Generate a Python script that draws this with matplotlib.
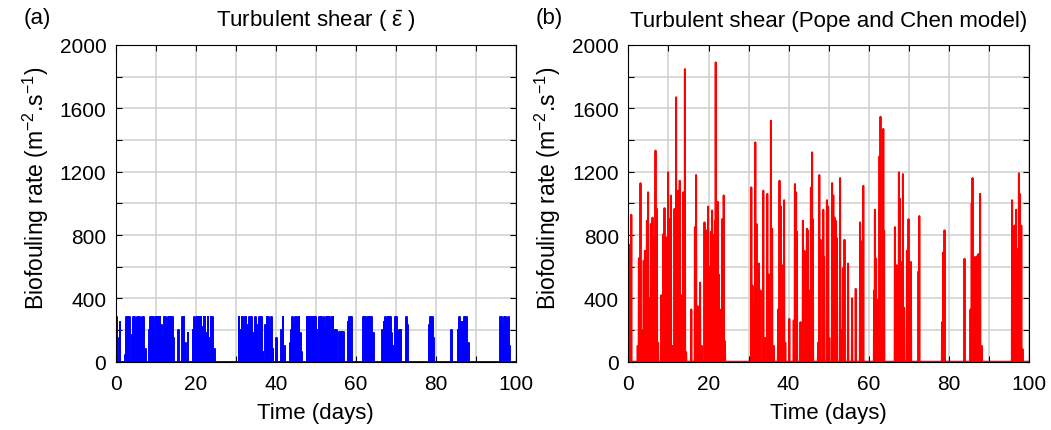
import matplotlib
matplotlib.use("Agg")
import matplotlib.pyplot as plt

plt.rcParams['font.family'] = ['Liberation Sans', 'DejaVu Sans']
plt.rcParams['mathtext.fontset'] = 'custom'
plt.rcParams['mathtext.rm'] = 'Liberation Sans'
plt.rcParams['mathtext.it'] = 'Liberation Sans'
plt.rcParams['font.size'] = 16

# (a) turbulent shear, mean epsilon: pulse days and heights
blue_days = [0.1, 0.3, 1.0, 2.3, 2.6, 3.0, 3.4,
             4.0, 4.3, 4.6, 5.0, 5.4, 5.8, 6.2, 6.6, 6.9, 7.3,
             8.3, 8.7, 9.0, 9.3, 9.7, 10.0, 10.3, 10.7, 11.0, 11.3, 11.7,
             12.1, 12.4, 12.8, 13.2, 13.5, 13.8, 14.2, 14.4,
             15.6, 16.7, 17.0, 17.4, 18.0,
             19.3, 19.6, 19.9, 20.3, 20.6, 21.0, 21.3, 21.7, 22.0, 22.3, 22.7, 23.0, 23.4, 23.75, 24.1, 24.6,
             30.8, 31.2, 31.5, 31.8, 32.2, 32.5, 32.8, 33.2, 33.5, 34.0, 34.5, 34.9, 35.3, 35.7, 36.0, 36.4, 36.8,
             37.5, 37.8, 38.2, 38.6, 39.0, 39.3, 40.2,
             41.5, 41.8, 42.2,
             43.6, 43.9, 44.2, 44.5, 44.9, 45.2, 45.5, 45.8, 46.2, 46.5,
             47.8, 48.1, 48.4, 48.7, 49.2, 49.7, 50.0, 50.3, 51.0, 51.3, 51.7, 52.0, 52.3, 52.7, 53.0, 53.3, 53.7, 54.0, 54.3,
             54.8, 55.2, 56.0, 56.5, 57.0,
             58.1, 58.5, 59.0,
             61.9, 62.3, 62.7, 63.0, 63.3, 63.7, 64.0, 64.5,
             66.7, 67.1, 67.4, 67.7, 68.1, 68.4, 68.7, 69.0, 69.4, 69.9, 70.2, 70.5, 71.0, 71.3,
             72.7, 73.0,
             78.5, 78.8, 79.2, 79.5,
             84.0, 85.6, 85.9, 86.2, 86.6, 86.9, 87.2, 87.8, 88.2,
             96.2, 96.5, 96.8, 97.2, 97.5, 97.8, 98.2, 98.5]
blue_heights = [280, 150, 250, 40, 280, 280, 280,
                170, 280, 280, 230, 280, 280, 200, 280, 280, 80,
                200, 280, 280, 280, 200, 280, 280, 280, 280, 230, 150,
                280, 280, 230, 280, 280, 280, 280, 150,
                200, 280, 280, 120, 180,
                200, 280, 230, 280, 280, 280, 280, 220, 280, 280, 180, 280, 150, 280, 280, 80,
                280, 200, 280, 250, 280, 280, 230, 180, 280, 280, 180, 280, 230, 100, 280, 280, 60,
                230, 280, 280, 200, 280, 80, 150,
                200, 280, 100,
                120, 200, 280, 230, 280, 280, 200, 280, 180, 60,
                280, 280, 230, 280, 280, 280, 280, 200, 280, 280, 250, 280, 200, 280, 280, 280, 150, 280, 280,
                200, 200, 190, 190, 190,
                250, 280, 280,
                280, 280, 230, 280, 280, 280, 280, 180,
                200, 250, 280, 230, 280, 280, 280, 180, 100, 280, 280, 150, 200, 200,
                280, 230,
                230, 280, 280, 150,
                200, 200, 280, 250, 250, 250, 280, 280, 120,
                280, 280, 230, 280, 280, 250, 280, 100]

# (b) Pope and Chen model: spike days and heights
red_days = [0.05, 0.15, 0.7, 2.3, 2.6, 3.0, 3.3, 3.8, 4.1, 4.4, 4.6, 4.9, 5.2, 5.6, 6.0, 6.3, 6.6, 6.75, 7.1, 7.4,
            8.2, 8.7, 9.0, 9.3, 9.6, 9.9, 10.3, 10.6, 10.9, 11.3, 11.5, 11.9, 12.2, 12.4, 12.8, 13.2, 13.7, 14.1, 14.4,
            15.7, 16.6, 16.9, 17.3, 17.9, 18.3, 19.0, 19.4, 19.6, 19.9, 20.3, 20.6, 20.9, 21.2, 21.6, 21.8, 22.0,
            22.3, 22.6, 23.2, 23.4, 23.8, 24.1,
            30.7, 31.0, 31.3, 31.7, 32.0, 32.6, 33.0, 33.7, 34.2, 34.7, 35.1, 35.6, 35.9, 36.3,
            37.4, 37.75, 38.1, 38.6, 38.9, 39.2, 40.2, 41.3, 41.6, 41.9, 42.1, 43.0, 43.6, 44.0, 44.6, 44.8,
            45.1, 45.6, 45.9, 46.1, 47.4, 47.7, 48.0, 48.7, 48.9, 49.6, 49.9, 50.2, 50.9, 51.2, 51.5, 51.8,
            52.1, 52.9, 53.3, 53.6, 54.0, 54.9, 55.9, 56.8, 57.9, 58.3, 58.7,
            61.4, 61.6, 61.9, 62.3, 62.75, 63.0, 63.3, 63.7, 63.9,
            66.6, 67.0, 67.6, 67.8, 68.1, 68.6, 68.9, 69.6, 70.0, 70.6, 72.5, 72.7,
            78.4, 78.7, 79.0, 84.0, 85.5, 85.8, 86.0, 86.5, 87.0, 87.5, 87.9, 88.3,
            95.9, 96.2, 96.5, 96.9, 97.3, 97.6, 97.8, 98.2, 98.5]
red_heights = [740, 350, 928, 100, 653, 1127, 200, 638, 700, 300, 890, 1070, 400, 870, 910, 390, 785, 1333, 965, 120,
               420, 806, 970, 330, 785, 1196, 900, 1049, 100, 80, 965, 1670, 850, 1080, 1143, 420, 1070, 1848, 60,
               330, 850, 1179, 350, 500, 100, 880, 330, 830, 980, 600, 820, 955, 800, 890, 1890, 810,
               1010, 550, 330, 900, 1050, 130,
               1101, 480, 350, 1385, 870, 620, 450, 1080, 150, 1060, 550, 1522, 840, 100,
               330, 1143, 980, 610, 1020, 120, 270, 260, 1122, 1070, 820, 250, 890, 700, 840, 830,
               450, 1100, 1322, 900, 120, 1179, 770, 960, 660, 1020, 980, 150, 1128, 1050, 910, 890,
               780, 1160, 200, 590, 770, 620, 400, 460, 880, 760, 1111,
               450, 960, 650, 390, 1297, 1547, 200, 1470, 825,
               850, 610, 1196, 1030, 630, 1185, 340, 700, 900, 630, 570, 920,
               250, 690, 830, 650, 330, 1000, 1160, 660, 665, 680, 1060, 100,
               1020, 480, 860, 960, 710, 1190, 1060, 860, 80]


def pulse_line(days, heights, w, flat):
    xs, ys = [0], [0]
    for d, h in zip(days, heights):
        if flat:
            xs += [d - w, d - w, d + w, d + w]
            ys += [0, h, h, 0]
        else:
            xs += [d - w, d, d + w]
            ys += [0, h, 0]
    xs.append(100)
    ys.append(0)
    return xs, ys


fig = plt.figure(figsize=(10.51, 4.31), dpi=100)
ax1 = fig.add_axes([0.1104, 0.1585, 0.3801, 0.7348])
ax2 = fig.add_axes([0.5980, 0.1585, 0.3806, 0.7348])

bx, by = pulse_line(blue_days, blue_heights, 0.09, True)
ax1.plot(bx, by, color='#0000ff', lw=1.4)
rx, ry = pulse_line(red_days, red_heights, 0.07, False)
ax2.plot(rx, ry, color='#ff0000', lw=1.4)

for ax, tag, title in [(ax1, '(a)', r'Turbulent shear ( $\bar{\epsilon}$ )'),
                       (ax2, '(b)', 'Turbulent shear (Pope and Chen model)')]:
    ax.set_xlim(0, 100)
    ax.set_ylim(0, 2000)
    ax.set_xticks(range(0, 101, 10))
    ax.set_xticklabels([str(v) if v % 20 == 0 else '' for v in range(0, 101, 10)])
    ax.set_yticks(range(0, 2001, 200))
    ax.set_yticklabels([str(v) if v % 400 == 0 else '' for v in range(0, 2001, 200)])
    ax.tick_params(axis='x', direction='in', top=True, length=4, width=0.8, labelsize=15, pad=9)
    ax.tick_params(axis='y', direction='in', right=True, length=4, width=0.8, labelsize=15, pad=7)
    ax.grid(True, color='#d0d0d0', lw=1.1)
    ax.set_axisbelow(True)
    for s in ax.spines.values():
        s.set_linewidth(0.8)
    ax.set_xlabel('Time (days)', fontsize=16, labelpad=6)
    ax.set_ylabel(r'Biofouling rate (m$^{-2}$.s$^{-1}$)', fontsize=16.5)
    ax.yaxis.set_label_coords(-0.163, 0.55)
    ax.set_title(title, fontsize=16, pad=14)
    ax.text(-0.232, 1.088, tag, transform=ax.transAxes, fontsize=16, ha='left', va='center')

fig.savefig('out.png', dpi=100)
